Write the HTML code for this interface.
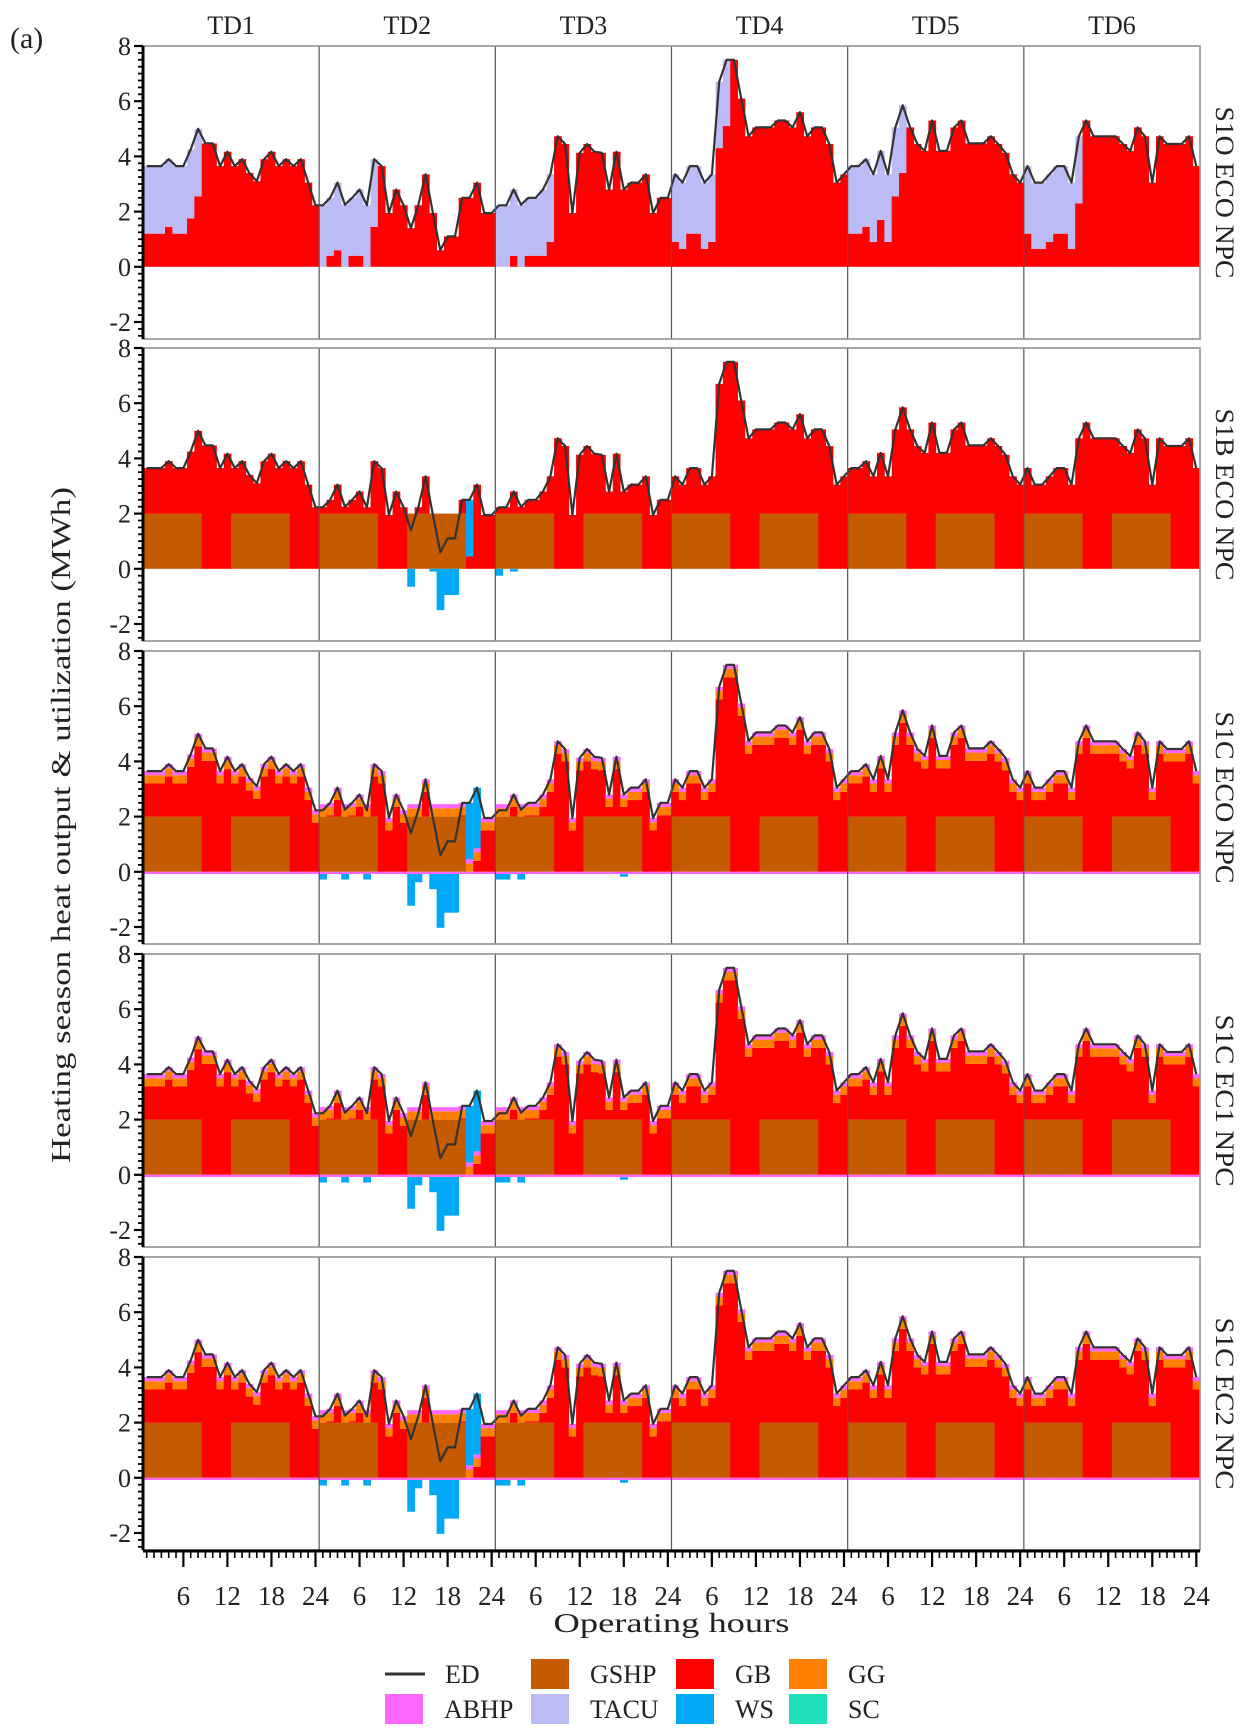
<!DOCTYPE html>
<html><head><meta charset="utf-8"><style>
html,body{margin:0;padding:0;background:#fff;}
svg{display:block;font-family:"Liberation Serif",serif;}
</style></head><body>
<svg id="chart" width="1246" height="1736" viewBox="0 0 1246 1736" xmlns="http://www.w3.org/2000/svg"></svg>
<script>
// ---- data ----
const tdLabels = ["TD1","TD2","TD3","TD4","TD5","TD6"];
const panelLabels = ["S1O ECO NPC","S1B ECO NPC","S1C ECO NPC","S1C EC1 NPC","S1C EC2 NPC"];
const yTicks = [8,6,4,2,0,-2];
const xTickLabels = ["6","12","18","24"];
const ed = [
3.65,3.65,3.65,3.9,3.65,3.65,4.25,5.0,4.47,4.47,3.65,4.17,3.65,3.9,3.4,3.1,3.9,4.17,3.65,3.9,3.65,3.9,3.05,2.23,
2.23,2.5,3.05,2.25,2.5,2.8,2.23,3.9,3.65,1.95,2.8,2.23,1.4,2.23,3.35,1.95,0.6,1.1,1.1,2.5,2.5,3.05,1.95,1.95,
2.23,2.23,2.8,2.25,2.5,2.5,2.8,3.35,4.73,4.45,1.95,4.13,4.45,4.17,4.13,2.8,4.17,2.8,3.05,3.05,3.35,1.95,2.5,2.5,
3.35,3.05,3.65,3.65,3.05,3.35,6.7,7.5,7.5,6.1,4.73,5.05,5.05,5.05,5.3,5.3,5.05,5.6,4.73,5.05,5.05,4.45,3.05,3.35,
3.65,3.65,3.9,3.35,4.2,3.35,5.05,5.85,5.05,4.45,4.2,5.3,4.2,4.2,5.05,5.3,4.47,4.47,4.47,4.73,4.45,4.13,3.35,3.05,
3.65,3.05,3.05,3.35,3.65,3.65,3.05,4.73,5.3,4.73,4.73,4.73,4.73,4.45,4.2,5.05,4.73,3.05,4.73,4.45,4.45,4.45,4.73,3.65];
// GB output in panel S1O for first 8 hours of each typical day (rest covered fully by GB)
const gbS1oMorning = [
[1.2,1.2,1.2,1.45,1.2,1.2,1.75,2.55],
[0,0.4,0.6,0,0.4,0.4,0,1.45],
[0,0,0.4,0,0.4,0.4,0.4,0.9],
[0.9,0.65,1.2,1.2,0.65,0.9,4.3,5.1],
[1.2,1.2,1.45,0.9,1.7,0.9,2.55,3.4],
[1.2,0.65,0.65,0.9,1.2,1.2,0.65,2.3]];
const gshpOn = [1,1,1,1,1,1,1,1,0,0,0,0,1,1,1,1,1,1,1,1,0,0,0,0];
const gshpLevel = 2.0;
const ggLevel = 0.3;
const abhpLevel = 0.15;
const abhpNeg = -0.08;
const wsS1bTD2 = [0,0,0,0,0,0,0,0,0,0,0,0,-0.65,0,0,-0.1,-1.5,-0.95,-0.95,0,2.05,0,0,0];
const wsS1bTD3 = [-0.25,0,-0.1,0,0,0,0,0,0,0,0,0,0,0,0,0,0,0,0,0,0,0,0,0];
const wsS1cTD2 = [-0.2,0,0,-0.2,0,0,-0.2,0,0,0,0,0,-1.15,-0.3,0,-0.55,-1.95,-1.4,-1.4,0,2.05,2.2,0,0];
const wsS1cTD3 = [-0.2,-0.2,0,-0.2,0,0,0,0,0,0,0,0,0,0,0,0,0,-0.1,0,0,0,0,0,0];

const C = {GB:"#ff0000",GSHP:"#c55a00",TACU:"#bbbbf5",WS:"#00a8f5",GG:"#ff8000",ABHP:"#ff66ff",SC:"#20e0bb",ED:"#333333"};
const svg = document.getElementById('chart');
const NS = "http://www.w3.org/2000/svg";
function mk(tag, attrs, parent){const e=document.createElementNS(NS,tag);for(const k in attrs)e.setAttribute(k,attrs[k]);(parent||svg).appendChild(e);return e;}

const L=143, R=1200, W=(R-L)/144, PH=293, U=27.6;
const tops=[46,348,651,954,1257];
const xh = i => L + i*W;          // left edge of hour i
const xc = i => L + (i+0.5)*W;    // centre of hour i

mk('rect',{x:0,y:0,width:1246,height:1736,fill:'#fff'});
let t=mk('text',{x:10,y:48,'font-size':30,fill:'#222'});t.textContent='(a)';



tdLabels.forEach((s,d)=>{
  const e=mk('text',{x:L+(d*24+12)*W,y:34,'font-size':26,'text-anchor':'middle',fill:'#222'});
  e.textContent=s;
  
  
});

function wsArr(p){
  const a=new Array(144).fill(0);
  const t2 = p===1?wsS1bTD2:(p>=2?wsS1cTD2:null);
  const t3 = p===1?wsS1bTD3:(p>=2?wsS1cTD3:null);
  if(t2){for(let h=0;h<24;h++){a[24+h]=t2[h];a[48+h]=t3[h];}}
  return a;
}

for(let p=0;p<5;p++){
  const top=tops[p];
  const Y = v => top + (8-v)*U;
  const g=mk('g',{});
  
  
  mk('rect',{x:L,y:top,width:R-L,height:PH,fill:'#fff',stroke:'#9a9a9a','stroke-width':1.5},g);
  const ws=wsArr(p);
  function bar(i,v0,v1,col,name){
    if(Math.abs(v1-v0)<1e-6)return;
    const r=mk('rect',{x:xh(i),y:Y(Math.max(v0,v1)),width:W+0.4,height:Math.abs(v1-v0)*U,fill:col},g);
    
    
  }
  for(let i=0;i<144;i++){
    const d=Math.floor(i/24), h=i%24, e=ed[i];
    if(p===0){
      const gb = h<8 ? gbS1oMorning[d][h] : e;
      bar(i,0,gb,C.GB,'gb-bar');
      bar(i,gb,e,C.TACU,'tacu-bar');
    } else if(p===1){
      const gs = gshpOn[h]?gshpLevel:0;
      const wp = Math.max(0,ws[i]);
      const gb = Math.max(0,e-gs-wp);
      bar(i,0,gs,C.GSHP,'gshp-bar');
      bar(i,gs,gs+gb,C.GB,'gb-bar');
      bar(i,gs+gb,gs+gb+wp,C.WS,'ws-bar');
      if(ws[i]<0) bar(i,0,ws[i],C.WS,'ws-bar');
    } else {
      const gs = gshpOn[h]?gshpLevel:0;
      const wp = Math.max(0,ws[i]);
      const gb = Math.max(0,e-gs-wp-ggLevel-abhpLevel);
      let b=0;
      bar(i,b,b+gs,C.GSHP,'gshp-bar'); b+=gs;
      bar(i,b,b+gb,C.GB,'gb-bar'); b+=gb;
      bar(i,b,b+ggLevel,C.GG,'gg-bar'); b+=ggLevel;
      bar(i,b,b+abhpLevel,C.ABHP,'abhp-bar'); b+=abhpLevel;
      bar(i,b,b+wp,C.WS,'ws-bar');
      bar(i,0,abhpNeg,C.ABHP,'abhp-bar');
      if(ws[i]<0) bar(i,abhpNeg,abhpNeg+ws[i],C.WS,'ws-bar');
    }
  }
  // ED line
  let dstr='';
  for(let i=0;i<144;i++) dstr+=(i?'L':'M')+xc(i).toFixed(1)+','+Y(ed[i]).toFixed(1);
  const ln=mk('path',{d:dstr,fill:'none',stroke:C.ED,'stroke-width':2.2,'stroke-linejoin':'round'},g);
  
  
  // dividers
  for(let d=1;d<6;d++) mk('line',{x1:xh(d*24),x2:xh(d*24),y1:top,y2:top+PH,stroke:'#555','stroke-width':1.2},g);
  mk('rect',{x:L,y:top,width:R-L,height:PH,fill:'none',stroke:'#9a9a9a','stroke-width':1.5},g);
  // left axis
  mk('line',{x1:L,x2:L,y1:top,y2:top+PH,stroke:'#000','stroke-width':3},g);
  for(let v=-2.5;v<=8.001;v+=0.25){
    const maj=Math.abs(v%2)<1e-6;
    mk('line',{x1:L,x2:L-(maj?9:5),y1:Y(v),y2:Y(v),stroke:'#000','stroke-width':maj?2.2:1.8},g);
  }
  yTicks.forEach(v=>{
    const e=mk('text',{x:L-12,y:Y(v)+9,'font-size':26,'text-anchor':'end',fill:'#222'},g);
    e.textContent=String(v);
    
    
  });
  const cy=top+PH/2;
  const pl=mk('text',{x:0,y:0,'font-size':26,'text-anchor':'middle',fill:'#222',textLength:172,lengthAdjust:'spacingAndGlyphs',transform:`translate(1216,${cy}) rotate(90)`},g);
  pl.textContent=panelLabels[p];
  
  
}

// bottom axis
const ab=1551;
mk('line',{x1:L,x2:R,y1:ab,y2:ab,stroke:'#000','stroke-width':3});
for(let i=0;i<144;i++){
  const maj=((i%24)+1)%6===0;
  mk('line',{x1:xc(i),x2:xc(i),y1:ab,y2:ab+(maj?16:7),stroke:'#000','stroke-width':maj?2.2:1.6});
}
for(let d=0;d<6;d++){
  xTickLabels.forEach((s,k)=>{
    const i=d*24+(k+1)*6-1;
    const e=mk('text',{x:xc(i),y:1605,'font-size':27,'text-anchor':'middle',fill:'#222'});
    e.textContent=s;
    
    
  });
}
let xt=mk('text',{x:(L+R)/2,y:1632,'font-size':27,'text-anchor':'middle',fill:'#222',textLength:236,lengthAdjust:'spacingAndGlyphs'});
xt.textContent='Operating hours';


let yt=mk('text',{x:0,y:0,'font-size':27,'text-anchor':'middle',fill:'#222',textLength:676,lengthAdjust:'spacingAndGlyphs',transform:'translate(70,825) rotate(-90)'});
yt.textContent='Heating season heat output & utilization (MWh)';



// legend
const legend=[
 ['ED',null,385,1659],['GSHP',C.GSHP,531,1659],['GB',C.GB,676,1659],['GG',C.GG,789,1659],
 ['ABHP',C.ABHP,385,1694],['TACU',C.TACU,531,1694],['WS',C.WS,676,1694],['SC',C.SC,789,1694]];
legend.forEach(([n,col,x,y])=>{
  const g=mk('g',{});
  
  
  if(col) mk('rect',{x:x,y:y,width:38,height:30,fill:col},g);
  else mk('line',{x1:x,x2:x+40,y1:y+15,y2:y+15,stroke:C.ED,'stroke-width':3},g);
  const e=mk('text',{x:x+(col?59:60),y:y+24,'font-size':26,fill:'#222'},g);
  e.textContent=n;
});
</script>
</body></html>
